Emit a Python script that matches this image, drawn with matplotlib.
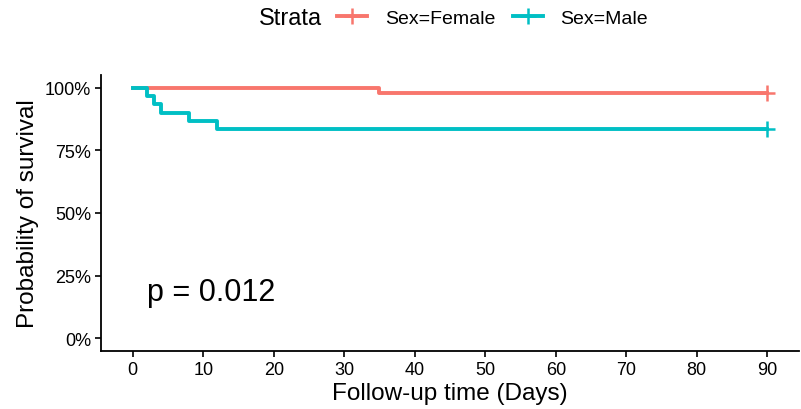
import numpy as np
import matplotlib
matplotlib.use("Agg")
import matplotlib.pyplot as plt
from matplotlib.lines import Line2D
from matplotlib.ticker import FuncFormatter

plt.rcParams['font.family'] = ['Liberation Sans', 'DejaVu Sans']

# Kaplan-Meier step data
female_time = [0, 35, 90]
female_surv = [1.0, 0.979, 0.979]
male_time = [0, 2, 3, 4, 8, 12, 90]
male_surv = [1.0, 0.967, 0.933, 0.900, 0.867, 0.833, 0.833]
censor_time = 90
labels = ["Sex=Female", "Sex=Male"]
colors = ["#F8766D", "#00BFC4"]
x_ticks = list(range(0, 91, 10))
y_ticks = [0, 0.25, 0.5, 0.75, 1.0]
p_text = "p = 0.012"

fig = plt.figure(figsize=(8.01, 4.10), dpi=100)
ax = fig.add_axes([101/801, 1 - 352/410, (799-101)/801, (352-76)/410])

series = [(female_time, female_surv), (male_time, male_surv)]
for (t, s), c in zip(series, colors):
    ax.step(t, s, where="post", color=c, lw=2.8)
    ax.plot([censor_time], [s[-1]], marker="+", color=c, ms=12, mew=1.8)

ax.set_xlim(-4.5, 94.5)
ax.set_ylim(-0.05, 1.05)
ax.set_xticks(x_ticks)
ax.set_yticks(y_ticks)
ax.yaxis.set_major_formatter(FuncFormatter(lambda v, _: "%d%%" % round(v * 100)))
for sp in ["top", "right"]:
    ax.spines[sp].set_visible(False)
for sp in ["left", "bottom"]:
    ax.spines[sp].set_linewidth(1.3)
ax.tick_params(direction="out", length=4, width=1.2, labelsize=13, colors="black", pad=3)
ax.set_xlabel("Follow-up time (Days)", fontsize=17.5, labelpad=3)
ax.set_ylabel("Probability of survival", fontsize=17.5, labelpad=4)
ax.text(2.0, 0.155, p_text, fontsize=22, ha="left", va="baseline")

handles = [Line2D([], [], color=c, lw=2.8, marker="+", ms=12, mew=1.8) for c in colors]
fig.text(259/801, 1 - 19/410, "Strata", fontsize=17, ha="left", va="center")
fig.legend(handles, labels, loc="center left", bbox_to_anchor=(337/801, 1 - 19/410),
           ncol=2, frameon=False, fontsize=14, handlelength=1.55, columnspacing=0.9,
           borderaxespad=0, borderpad=0, handletextpad=0.9)

fig.savefig("out.png", dpi=100)
